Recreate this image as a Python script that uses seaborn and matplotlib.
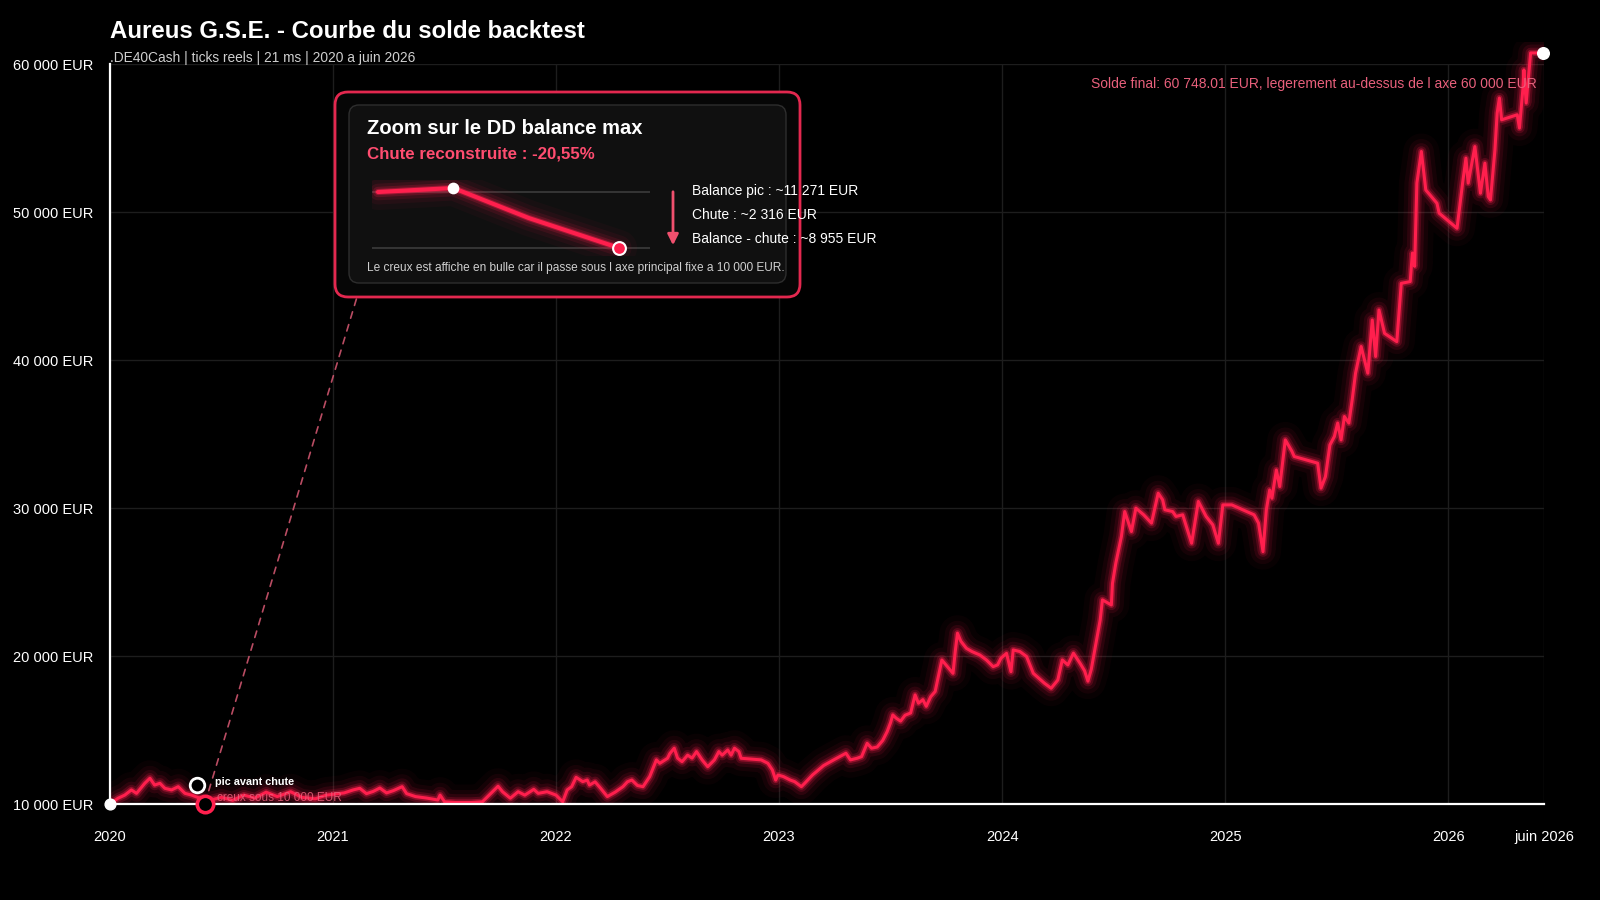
import matplotlib
matplotlib.use("Agg")
import matplotlib.pyplot as plt
from matplotlib.patches import FancyBboxPatch, FancyArrowPatch, ConnectionPatch
from matplotlib.transforms import Bbox, TransformedBbox
import seaborn as sns
import pandas as pd
import numpy as np

annee = [
    2020.000, 2020.036, 2020.066, 2020.096, 2020.119, 2020.156, 2020.179, 2020.200,
    2020.224, 2020.246, 2020.276, 2020.306, 2020.336, 2020.366, 2020.403, 2020.425,
    2020.460, 2020.500, 2020.550, 2020.600, 2020.650, 2020.700, 2020.750, 2020.810,
    2020.860, 2020.920, 2020.970, 2021.050, 2021.090, 2021.120, 2021.150, 2021.180,
    2021.210, 2021.240, 2021.270, 2021.310, 2021.330, 2021.370, 2021.420, 2021.470,
    2021.480, 2021.500, 2021.550, 2021.620, 2021.670, 2021.740, 2021.760, 2021.795,
    2021.830, 2021.860, 2021.900, 2021.920, 2021.960, 2022.000, 2022.030, 2022.050,
    2022.070, 2022.090, 2022.120, 2022.140, 2022.150, 2022.175, 2022.200, 2022.230,
    2022.265, 2022.300, 2022.320, 2022.340, 2022.365, 2022.390, 2022.420, 2022.450,
    2022.465, 2022.500, 2022.510, 2022.530, 2022.545, 2022.565, 2022.590, 2022.610,
    2022.630, 2022.655, 2022.680, 2022.710, 2022.730, 2022.745, 2022.770, 2022.785,
    2022.800, 2022.820, 2022.830, 2022.890, 2022.920, 2022.950, 2022.970, 2022.985,
    2022.995, 2023.020, 2023.050, 2023.070, 2023.100, 2023.115, 2023.150, 2023.200,
    2023.245, 2023.300, 2023.320, 2023.350, 2023.370, 2023.395, 2023.415, 2023.440,
    2023.465, 2023.485, 2023.500, 2023.510, 2023.525, 2023.545, 2023.565, 2023.590,
    2023.610, 2023.625, 2023.645, 2023.660, 2023.680, 2023.700, 2023.730, 2023.755,
    2023.780, 2023.790, 2023.800, 2023.815, 2023.840, 2023.865, 2023.900, 2023.930,
    2023.960, 2023.980, 2023.995, 2024.020, 2024.040, 2024.050, 2024.080, 2024.110,
    2024.140, 2024.190, 2024.220, 2024.250, 2024.270, 2024.295, 2024.320, 2024.350,
    2024.370, 2024.385, 2024.400, 2024.440, 2024.450, 2024.490, 2024.495, 2024.510,
    2024.535, 2024.550, 2024.580, 2024.600, 2024.635, 2024.670, 2024.700, 2024.720,
    2024.730, 2024.765, 2024.780, 2024.810, 2024.850, 2024.880, 2024.915, 2024.945,
    2024.970, 2024.990, 2025.030, 2025.130, 2025.150, 2025.170, 2025.185, 2025.200,
    2025.210, 2025.230, 2025.245, 2025.270, 2025.300, 2025.310, 2025.415, 2025.430,
    2025.450, 2025.470, 2025.490, 2025.505, 2025.520, 2025.535, 2025.555, 2025.570,
    2025.585, 2025.610, 2025.640, 2025.660, 2025.675, 2025.690, 2025.715, 2025.770,
    2025.790, 2025.830, 2025.840, 2025.850, 2025.860, 2025.880, 2025.900, 2025.950,
    2025.960, 2026.040, 2026.065, 2026.080, 2026.090, 2026.120, 2026.145, 2026.165,
    2026.180, 2026.190, 2026.210, 2026.220, 2026.230, 2026.240, 2026.310, 2026.320,
    2026.335, 2026.340, 2026.350, 2026.365, 2026.370, 2026.425,
]
solde = [
    10000, 10390, 10600, 10950, 10720, 11400, 11740, 11280,
    11400, 11060, 10950, 11170, 10720, 10600, 10390, 10020,
    10300, 10450, 10250, 10600, 10400, 10800, 10500, 10830,
    10450, 10350, 10600, 10750, 10950, 11060, 10700, 10850,
    11080, 10750, 10900, 11170, 10700, 10500, 10400, 10270,
    10600, 10150, 10100, 10100, 10150, 11200, 10830, 10390,
    10830, 10600, 10990, 10720, 10830, 10600, 10150, 10950,
    11170, 11800, 11510, 11620, 11280, 11500, 11060, 10500,
    10800, 11170, 11500, 11620, 11250, 11170, 11850, 12980,
    12750, 13090, 13400, 13770, 13100, 12860, 13300, 13100,
    13540, 12980, 12520, 12980, 13540, 13300, 13650, 13300,
    13770, 13540, 13090, 13020, 12980, 12750, 12300, 11620,
    11960, 11850, 11620, 11510, 11170, 11400, 11960, 12600,
    12980, 13430, 12980, 13090, 13200, 14100, 13770, 13850,
    14300, 14900, 15500, 16020, 15800, 15600, 16000, 16150,
    17370, 16810, 17050, 16600, 17250, 17600, 19730, 19280,
    18830, 20300, 21540, 21000, 20520, 20300, 20070, 19730,
    19280, 19400, 19850, 20180, 18940, 20410, 20300, 19960,
    18830, 18160, 17820, 18380, 19730, 19400, 20190, 19500,
    19000, 18300, 19100, 22440, 23790, 23450, 24900, 26270,
    28070, 29760, 28410, 29990, 29540, 28980, 31000, 30550,
    29880, 29760, 29430, 29540, 27620, 30440, 29430, 28860,
    27620, 30210, 30210, 29540, 28980, 27050, 29880, 31220,
    30660, 32570, 31450, 34600, 33820, 33480, 33030, 31340,
    32120, 34260, 34830, 35740, 34600, 36180, 35740, 37320,
    39110, 40910, 39110, 42700, 40240, 43380, 41800, 41240,
    45180, 45300, 47230, 46330, 51950, 54090, 51490, 50590,
    49920, 48900, 51950, 53640, 51950, 54420, 51270, 53300,
    51040, 50820, 54200, 56680, 57700, 56230, 56570, 55670,
    58250, 59600, 57360, 59950, 60748, 60748.01,
]

# drawdown max (pic -> creux)
pic_annee, pic_solde = 2020.388, 11271
creux_annee, creux_solde = 2020.425, 8955
axe_min, axe_max = 10000, 60000

# mini courbe du zoom
zoom_pas = [0, 1, 2, 3.2]
zoom_solde = [11117, 11271, 10113, 8955]

y_ticks = [10000, 20000, 30000, 40000, 50000, 60000]
y_labels = ["10 000 EUR", "20 000 EUR", "30 000 EUR", "40 000 EUR", "50 000 EUR", "60 000 EUR"]
x_ticks = [2020, 2021, 2022, 2023, 2024, 2025, 2026, 2026.43]
x_labels = ["2020", "2021", "2022", "2023", "2024", "2025", "2026", "juin 2026"]

ROUGE = "#ff1f4d"
ROSE = "#e8607c"

sns.set_theme(style="darkgrid")
plt.rcParams.update({
    "figure.facecolor": "black",
    "axes.facecolor": "black",
    "savefig.facecolor": "black",
    "text.color": "white",
})
plt.rcParams["font.family"] = ["Liberation Sans", "DejaVu Sans"]

df = pd.DataFrame({"annee": annee, "solde": solde})

fig = plt.figure(figsize=(16, 9), dpi=100)
ax = fig.add_axes([110 / 1600, 1 - 804 / 900, 1434 / 1600, 740 / 900])

# la courbe depasse un peu 60 000 : on laisse de la marge en haut
zone = TransformedBbox(Bbox([[0, 0], [1, 1.03]]), ax.transAxes)


def courbe_neon(axe, data, x, y, lw=2.0, clip=None):
    for largeur, alpha in [(26, 0.035), (18, 0.06), (12, 0.1), (7.5, 0.18), (4.5, 0.35)]:
        sns.lineplot(data=data, x=x, y=y, ax=axe, color=ROUGE, lw=largeur, alpha=alpha,
                     estimator=None, sort=False, solid_capstyle="round")
    sns.lineplot(data=data, x=x, y=y, ax=axe, color=ROUGE, lw=lw,
                 estimator=None, sort=False, solid_joinstyle="round")
    if clip is not None:
        for ln in axe.lines:
            ln.set_clip_box(clip)


courbe_neon(ax, df, "annee", "solde", lw=2.2, clip=zone)

ax.set_xlim(2020, 2026.43)
ax.set_ylim(axe_min, axe_max)
ax.set_xticks(x_ticks, x_labels)
ax.set_yticks(y_ticks, y_labels)
ax.set_xlabel("")
ax.set_ylabel("")
ax.grid(True, color="#1d1d1d", lw=1)
ax.tick_params(colors="white", labelsize=10.5, length=0)
ax.tick_params(axis="x", pad=19)
ax.tick_params(axis="y", pad=12)
for cote in ["top", "right"]:
    ax.spines[cote].set_visible(False)
for cote in ["left", "bottom"]:
    ax.spines[cote].set_color("white")
    ax.spines[cote].set_linewidth(1.6)
    ax.spines[cote].set_zorder(5)

# points debut / fin
ax.scatter([annee[0]], [solde[0]], s=60, color="white", zorder=10, clip_on=False)
ax.scatter([annee[-1]], [solde[-1]], s=70, color="white", zorder=10, clip_on=False)

# pic et creux (creux sous l'axe -> bulle posee sur l'axe)
ax.scatter([pic_annee], [pic_solde], s=110, facecolor="black", edgecolor="white",
           lw=2, zorder=11, clip_on=False)
ax.scatter([creux_annee], [max(creux_solde, axe_min)], s=140, facecolor="black",
           edgecolor=ROUGE, lw=2.6, zorder=11, clip_on=False)
ax.annotate("pic avant chute", (pic_annee, pic_solde), xytext=(13, 2),
            textcoords="offset points", va="center", fontsize=7.8,
            fontweight="bold", color="white", zorder=12)
ax.annotate("creux sous 10 000 EUR", (creux_annee, max(creux_solde, axe_min)),
            xytext=(9, 4), textcoords="offset points", va="center", fontsize=8.5,
            color=ROSE, alpha=0.85, zorder=12)

# titres
fig.text(110 / 1600, 1 - 32 / 900, "Aureus G.S.E. - Courbe du solde backtest",
         fontsize=17.3, fontweight="bold", color="white", va="center")
fig.text(110 / 1600, 1 - 58 / 900, ".DE40Cash | ticks reels | 21 ms | 2020 a juin 2026",
         fontsize=9.9, color="#cfcfcf", va="center")
fig.text(1537 / 1600, 1 - 84 / 900,
         "Solde final: 60 748.01 EUR, legerement au-dessus de l axe 60 000 EUR",
         fontsize=10, color=ROSE, ha="right", va="center", zorder=20)

# bulle de zoom
cadre = FancyBboxPatch((3.35, 6.03), 4.65, 2.05, boxstyle="round,pad=0,rounding_size=0.13",
                       transform=fig.dpi_scale_trans, facecolor="#060606",
                       edgecolor="#e3284f", lw=2, zorder=30)
fig.patches.append(cadre)
carte = FancyBboxPatch((3.49, 6.17), 4.37, 1.78, boxstyle="round,pad=0,rounding_size=0.1",
                       transform=fig.dpi_scale_trans, facecolor="#101010",
                       edgecolor="#2e2e2e", lw=1, zorder=31)
fig.patches.append(carte)

lien = ConnectionPatch(xyA=(creux_annee, axe_min), coordsA=ax.transData,
                       xyB=(357 / 1600, 1 - 297 / 900), coordsB=fig.transFigure,
                       color=ROSE, lw=1.2, ls=(0, (4, 4)), alpha=0.8,
                       shrinkA=10, shrinkB=0, zorder=9)
fig.add_artist(lien)

fig.text(367 / 1600, 1 - 128 / 900, "Zoom sur le DD balance max", fontsize=14.5,
         fontweight="bold", color="white", va="center", zorder=40)
fig.text(367 / 1600, 1 - 154 / 900, "Chute reconstruite : -20,55%", fontsize=12.2,
         fontweight="bold", color="#ff4d70", va="center", zorder=40)

mini = fig.add_axes([372 / 1600, 1 - 256 / 900, 278 / 1600, 76 / 900], zorder=35)
mini.set_facecolor("none")
mini.axis("off")
for niveau in [zoom_solde[0], zoom_solde[-1]]:
    mini.axhline(niveau, color="#3c3c3c", lw=1.2, zorder=0)
courbe_neon(mini, pd.DataFrame({"pas": zoom_pas, "solde": zoom_solde}), "pas", "solde", lw=3)
mini.scatter([zoom_pas[1]], [zoom_solde[1]], s=55, color="white", zorder=10, clip_on=False)
mini.scatter([zoom_pas[-1]], [zoom_solde[-1]], s=85, color=ROUGE, edgecolor="white",
             lw=1.5, zorder=10, clip_on=False)
mini.set_xlim(-0.08, 3.61)
mini.set_ylim(8646, 11580)

fleche = FancyArrowPatch((673 / 1600, 1 - 189 / 900), (673 / 1600, 1 - 248 / 900),
                         transform=fig.transFigure, arrowstyle="-|>", mutation_scale=16,
                         color="#f0506e", lw=2, zorder=40)
fig.patches.append(fleche)

infos = ["Balance pic : ~11 271 EUR", "Chute : ~2 316 EUR", "Balance - chute : ~8 955 EUR"]
for i, ligne in enumerate(infos):
    fig.text(692 / 1600, 1 - (191 + 24 * i) / 900, ligne, fontsize=10, color="white",
             va="center", zorder=40)
fig.text(367 / 1600, 1 - 268 / 900,
         "Le creux est affiche en bulle car il passe sous l axe principal fixe a 10 000 EUR.",
         fontsize=8.6, color="#cfcfcf", va="center", zorder=40)

fig.savefig("out.png", dpi=100)
